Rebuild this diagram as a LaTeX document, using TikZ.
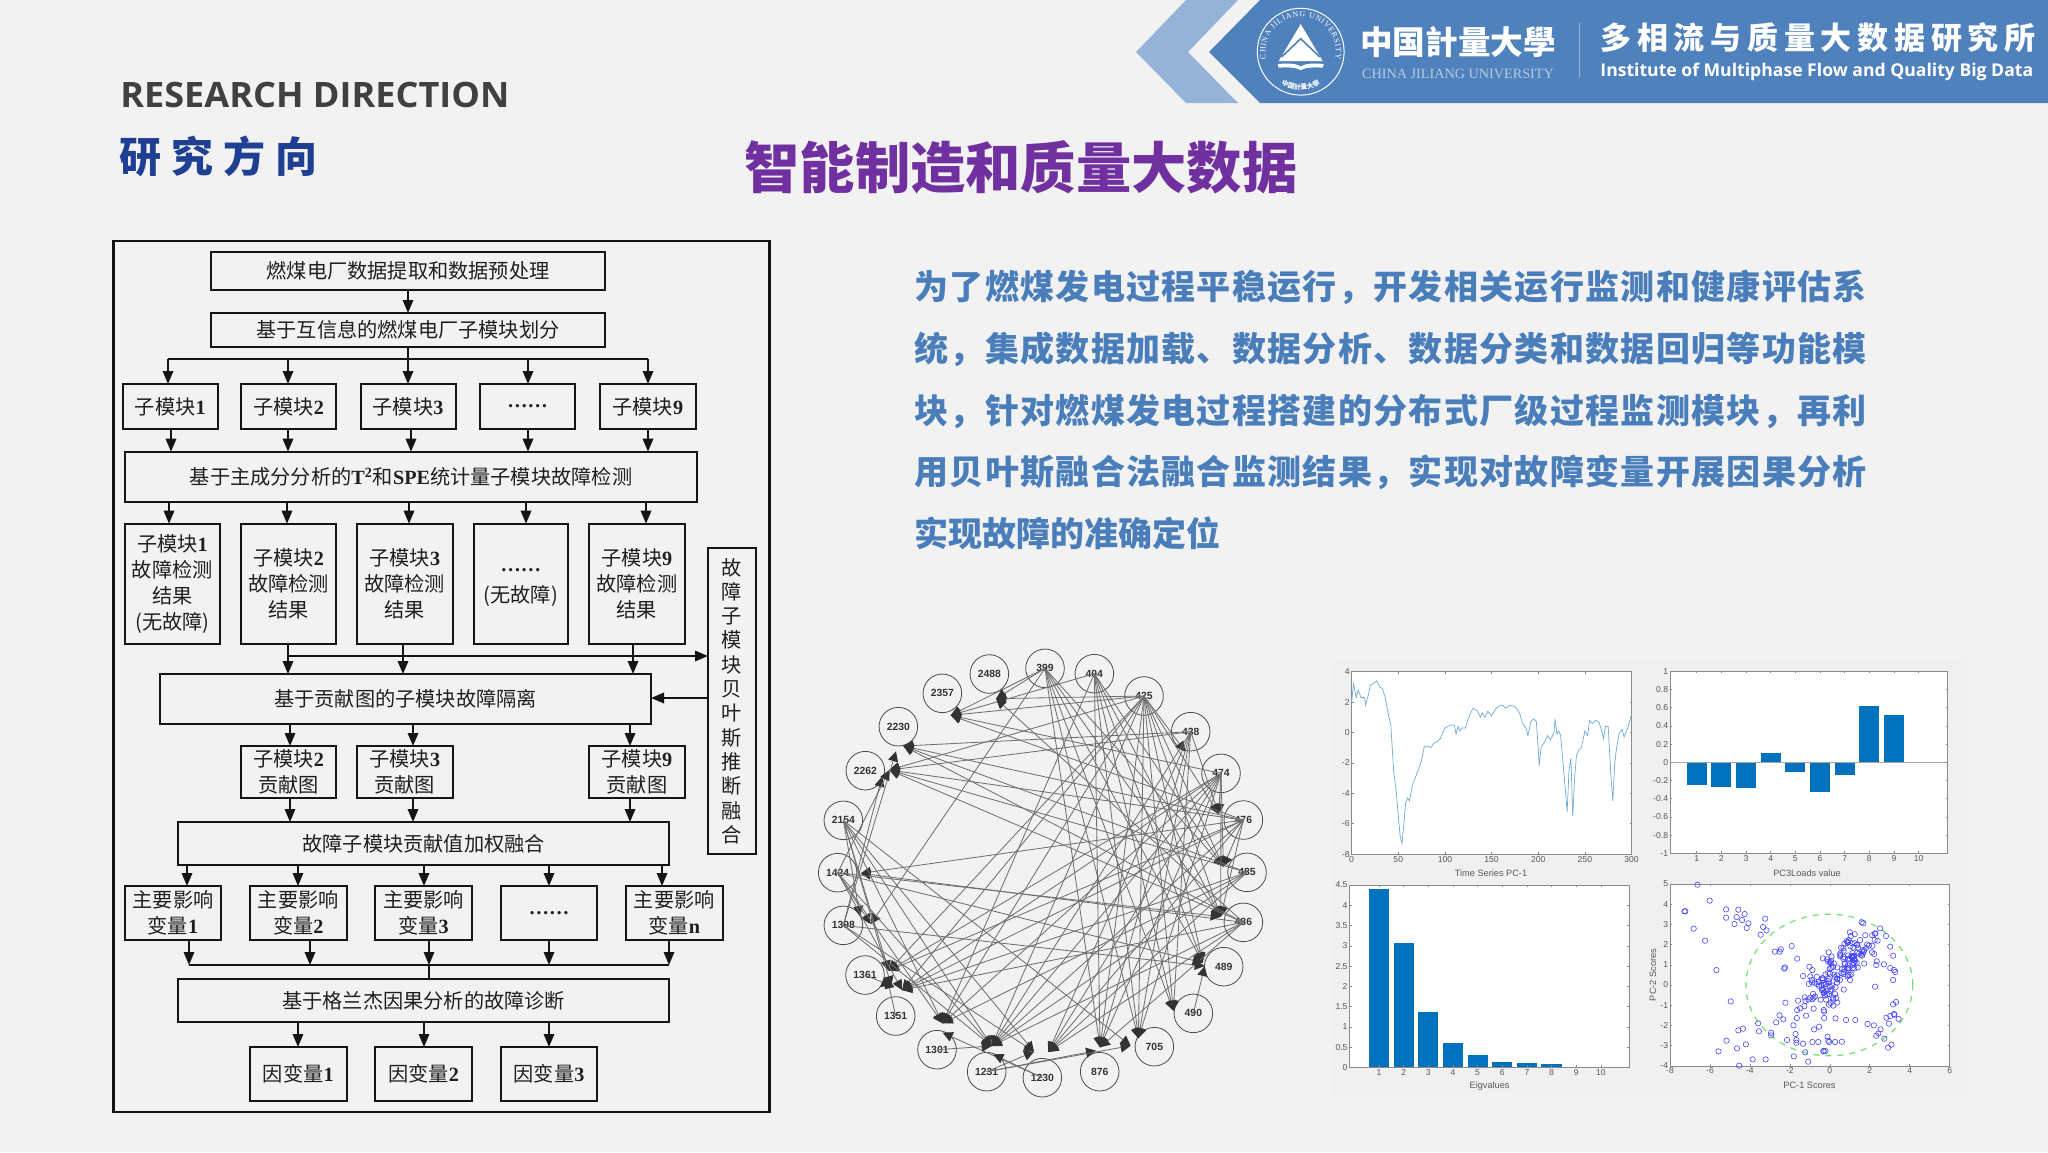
\documentclass[tikz,border=0pt]{standalone}
\usepackage{fontspec}
\usepackage{graphicx}
\usetikzlibrary{arrows.meta,calc,decorations.text}
\setmainfont{Liberation Serif}
\newfontfamily\cjk{Noto Sans CJK SC}
\newfontfamily\cjktc{Noto Sans CJK TC}
\newfontfamily\lsans{Liberation Sans}
\newfontfamily\osans{Open Sans}
\definecolor{slidebg}{HTML}{F2F2F2}
\definecolor{panelbg}{HTML}{F0F0F0}
\definecolor{bannerblue}{HTML}{4F81BD}
\definecolor{chevblue}{HTML}{95B3D7}
\definecolor{parablue}{HTML}{4A7EBB}
\definecolor{titlepurple}{HTML}{7030A0}
\definecolor{headblue}{HTML}{1F3F93}
\definecolor{headgray}{HTML}{404040}
\definecolor{barblue}{HTML}{0072BD}
\definecolor{ax}{HTML}{8A8A8A}
\definecolor{lineblue}{HTML}{6FAAD8}
\newcommand\dg[1]{{\rmfamily\bfseries #1}}
\newcommand\bx[6]{\node[flowbox, minimum width={(#4-#2)*0.5pt}, minimum height={(#5-#3)*0.5pt}] (#1) at ({(#2+#4)/2},{(#3+#5)/2}) {#6};}
\newcommand\dn[3]{\draw[flow] (#1.south -| #3) -- (#2.north -| #3);}
\tikzset{
 flowbox/.style={draw=black!92,line width=1pt,inner sep=0pt,outer sep=0pt,align=center,text=black!88,font=\cjk\fontsize{10.1}{13}\selectfont},
 flow/.style={line width=1pt,draw=black!92,-{Triangle[length=6.5pt,width=5.2pt]}},
 flowline/.style={line width=1pt,draw=black!92},
 gnode/.style={circle,draw=black!70,line width=0.4pt,minimum size=19.3pt,inner sep=0pt,text=black!80,font=\lsans\bfseries\fontsize{5.2}{6}\selectfont},
 gedge/.style={draw=black!56,line width=0.42pt,-{Triangle[length=5pt,width=5pt,black!80]}},
 axframe/.style={draw=ax,line width=0.35pt,fill=white},
 tickm/.style={draw=ax,line width=0.3pt},
 ticklab/.style={text=black!65,font=\lsans\fontsize{4.3}{5}\selectfont,inner sep=0.8pt},
 axlab/.style={text=black!65,font=\lsans\fontsize{4.6}{5.5}\selectfont,inner sep=0pt},
 mk/.style={draw=blue!75,line width=0.28pt},
}
\begin{document}
\begin{tikzpicture}[x=0.5pt,y=-0.5pt]
\fill[slidebg] (0,0) rectangle (2048,1152);
\useasboundingbox (0,0) rectangle (2048,1152);
% banner
\fill[chevblue] (1186,0) -- (1136,52) -- (1186,103) -- (1238,103) -- (1188,52) -- (1238,0) -- cycle;
\fill[bannerblue] (1209,52) -- (1260,0) -- (2048,0) -- (2048,103) -- (1260,103) -- cycle;
\begin{scope}[shift={(1300.7,51.7)},x=1pt,y=1pt]
 \draw[white,line width=0.5pt] (0,0) circle (21.7pt);
 \fill[white] (0,13.8) -- (11,-4.7) -- (-11,-4.7) -- cycle;
 \draw[bannerblue,line width=0.8pt] (-9.5,-2.6) -- (0,6.5) -- (9.5,-2.6);
 \fill[white] (-11.5,-6.2) .. controls (-6,-5.6) and (-2,-6) .. (0,-7.4) .. controls (2,-6) and (6,-5.6) .. (11.5,-6.2) -- (11,-8) .. controls (6,-7.6) and (2,-8) .. (0,-9.2) .. controls (-2,-8) and (-6,-7.6) .. (-11,-8) -- cycle;
 \path[decorate,decoration={text along path,text align=fit to path,text={|\rmfamily\fontsize{4}{5}\selectfont\color{white}|CHINA JILIANG UNIVERSITY}}] (192:17.6pt) arc[start angle=192,end angle=-12,radius=17.6pt];
 \path[decorate,decoration={text along path,text align=center,text={|\cjktc\bfseries\fontsize{3.4}{4}\selectfont\color{white}|中国計量大學}}] (222:19pt) arc[start angle=222,end angle=318,radius=19pt];
\end{scope}
\node[text=white,inner sep=0pt,anchor=center,font=\cjktc\bfseries\fontsize{16.3}{18}\selectfont] (cjlu) at (1458,42) {中国計量大學};
\node[text=chevblue!70!white,inner sep=0pt,font=\rmfamily\fontsize{7.1}{8}\selectfont] (cjluen) at (1458,74) {CHINA JILIANG UNIVERSITY};
\fill[chevblue] (1578.6,23) rectangle (1579.8,78);
\node[text=white,inner sep=0pt,anchor=west,font=\cjk\bfseries\fontsize{15.5}{18}\selectfont\addfontfeature{LetterSpace=18.5}] (inst) at (1600,38) {多相流与质量大数据研究所};
\node[text=white,inner sep=0pt,anchor=west,font=\osans\bfseries\fontsize{8.8}{11}\selectfont] (insten) at (1600,72) {Institute of Multiphase Flow and Quality Big Data};
% headings
\node[text=headgray,inner sep=0pt,anchor=west,font=\osans\bfseries\fontsize{17.5}{20}\selectfont] (rd) at (120,95) {\scalebox{1.03}[1]{RESEARCH DIRECTION}};
\node[text=headblue,inner sep=0pt,anchor=west,font=\cjk\bfseries\fontsize{21}{24}\selectfont\addfontfeature{LetterSpace=24}] (yjfx) at (119,156) {研究方向};
\node[text=titlepurple,inner sep=0pt,anchor=west,font=\cjk\bfseries\fontsize{27.65}{30}\selectfont] (title) at (744,167) {智能制造和质量大数据};
\node[text=parablue,inner sep=0pt,anchor=north west,align=left,font=\cjk\bfseries\fontsize{17}{30.83}\selectfont\addfontfeature{LetterSpace=3.9}] (para) at (914,270) {为了燃煤发电过程平稳运行，开发相关运行监测和健康评估系\\统，集成数据加载、数据分析、数据分类和数据回归等功能模\\块，针对燃煤发电过程搭建的分布式厂级过程监测模块，再利\\用贝叶斯融合法融合监测结果，实现对故障变量开展因果分析\\\addfontfeature{LetterSpace=0}实现故障的准确定位};
% flowchart
\node[draw=black!92,line width=1.2pt,minimum width=327.95pt,minimum height=435.5pt,inner sep=0pt] (frame) at (441.5,676.5) {};
\bx{b1}{211}{252}{605}{290}{燃煤电厂数据提取和数据预处理}
\bx{b2}{211}{313}{605}{347}{基于互信息的燃煤电厂子模块划分}
\bx{m1}{123}{384}{217.5}{429}{子模块\dg{1}}
\bx{m2}{241}{384}{336}{429}{子模块\dg{2}}
\bx{m3}{360.6}{384}{455.6}{429}{子模块\dg{3}}
\bx{m4}{480}{384}{575}{429}{\dg{……}}
\bx{m5}{600}{384}{695.5}{429}{子模块\dg{9}}
\bx{t2}{125}{451.7}{697}{502}{基于主成分分析的\dg{T\textsuperscript{2}}和\dg{SPE}统计量子模块故障检测}
\bx{r1}{125}{523.7}{219.7}{644.3}{子模块\dg{1}\\故障检测\\结果\\(无故障)}
\bx{r2}{241}{523.7}{336}{644.3}{子模块\dg{2}\\故障检测\\结果}
\bx{r3}{357}{523.7}{452.5}{644.3}{子模块\dg{3}\\故障检测\\结果}
\bx{r4}{473.7}{523.7}{568}{644.3}{\rule{0pt}{5pt}\dg{……}\\[2.5pt](无故障)}
\bx{r5}{589.4}{523.7}{684.5}{644.3}{子模块\dg{9}\\故障检测\\结果}
\node[flowbox,font=\cjk\fontsize{10.1}{12.15}\selectfont,minimum width=24pt,minimum height=153pt] (side) at (732,701) {故\\障\\子\\模\\块\\贝\\叶\\斯\\推\\断\\融\\合};
\bx{contrib}{160}{674}{651}{724}{基于贡献图的子模块故障隔离}
\bx{c2}{241}{746}{336}{798}{子模块\dg{2}\\贡献图}
\bx{c3}{357}{746}{452.5}{798}{子模块\dg{3}\\贡献图}
\bx{c5}{589.4}{746}{684.5}{798}{子模块\dg{9}\\贡献图}
\bx{w}{178.3}{822}{669}{865}{故障子模块贡献值加权融合}
\bx{v1}{125}{886}{221}{940}{主要影响\\变量\dg{1}}
\bx{v2}{250}{886}{346.5}{940}{主要影响\\变量\dg{2}}
\bx{v3}{375}{886}{472}{940}{主要影响\\变量\dg{3}}
\bx{v4}{501}{886}{597}{940}{\dg{……}}
\bx{v5}{625.5}{886}{723}{940}{主要影响\\变量\dg{n}}
\bx{g}{178.3}{979}{669}{1022}{基于格兰杰因果分析的故障诊断}
\bx{d1}{250}{1047}{346.5}{1101}{因变量\dg{1}}
\bx{d2}{375}{1047}{472}{1101}{因变量\dg{2}}
\bx{d3}{501}{1047}{597}{1101}{因变量\dg{3}}
\foreach \x in {168,169,171,187,189,287,288,290,298,310,403,408,409,411,413,424,429,526,528,549,630,633,646,648,662,669}{\coordinate (x\x) at (\x,0);}
\foreach \y in {359,656,698,965}{\coordinate (y\y) at (0,\y);}
\dn{b1}{b2}{x408}
\draw[flowline] (b2.south -| x408) -- (x408 |- y359);
\draw[flowline] (x168 |- y359) -- (x648 |- y359);
\foreach \n/\x in {m1/x168,m2/x288,m3/x408,m4/x528,m5/x648}{\draw[flow] (\x |- y359) -- (\n.north -| \x);}
\dn{m1}{t2}{x171}\dn{m2}{t2}{x288}\dn{m3}{t2}{x411}\dn{m4}{t2}{x528}\dn{m5}{t2}{x648}
\dn{t2}{r1}{x169}\dn{t2}{r2}{x287}\dn{t2}{r3}{x409}\dn{t2}{r4}{x526}\dn{t2}{r5}{x646}
\dn{r2}{contrib}{x288}\dn{r3}{contrib}{x403}\dn{r5}{contrib}{x633}
\draw[flow] (x288 |- y656) -- (side.west |- y656);
\draw[flow] (side.west |- y698) -- (contrib.east |- y698);
\dn{contrib}{c2}{x290}\dn{contrib}{c3}{x413}\dn{contrib}{c5}{x630}
\dn{c2}{w}{x290}\dn{c3}{w}{x413}\dn{c5}{w}{x630}
\dn{w}{v1}{x187}\dn{w}{v2}{x298}\dn{w}{v3}{x424}\dn{w}{v4}{x549}\dn{w}{v5}{x662}
\foreach \n/\x in {v1/x189,v2/x310,v3/x429,v4/x549,v5/x669}{\draw[flow] (\n.south -| \x) -- (\x |- y965);}
\draw[flowline] (x189 |- y965) -- (x669 |- y965);
\draw[flowline] (x429 |- y965) -- (g.north -| x429);
\dn{g}{d1}{x298}\dn{g}{d2}{x424}\dn{g}{d3}{x549}
% network graph
\begin{scope}[shift={(810,640)},x=0.16667pt,y=-0.16667pt]
\foreach \n/\a/\b in {399/705/85,404/853/101,425/1002/168,438/1142/275,474/1233/400,476/1300/540,485/1311/697,486/1300/847,489/1241/980,490/1150/1120,705/1033/1220,876/869/1295,1230/697/1313,1231/530/1295,1301/381/1229,1351/257/1128,1361/165/1005,1398/100/856,1424/83/698,2154/100/541,2262/166/392,2230/265/260,2357/397/160,2488/538/102}{\node[gnode] (g\n) at (\a,\b) {\n};}
\foreach \n/\a/\b in {2488/558/176,2357/422/226,2230/280/318,2262/238/390,1424/152/700,1398/182/852,1361/236/992,1351/276/1050,1301/398/1150,1231/545/1218,1230/715/1236,876/870/1222,705/985/1195,490/1090/1112,489/1178/968,486/1232/830,485/1240/680,476/1226/522,438/1126/335,2230b/258/334,2262b/216/410,489b/1184/978,1398b/150/828,1361b/232/1015,1351b/244/1038,1301b/398/1178,1231b/550/1243,1230b/672/1235,876b/858/1232,705b/962/1217}{\coordinate (p\n) at (\a,\b);}
\foreach \s/\tl in {
 399/{2357,2488,1398,876,705,490,489,486,485},
 404/{2357,1301,876,705,490,489,486,485},
 425/{2488,2357,2262,1361,1351,1301,1231,876,705,490,489,486,485,476,438},
 438/{2230,2262,1231,1230,876,705,476,490},
 474/{2357,1361,1351,1301,1231,1230,705,876,476,485,486},
 476/{2230,2262,2357,1424,1361,1351,1231,1230,485,486},
 485/{2230,2262,1351,1231,1230,1301},
 486/{2230,2262,2488,1424,1351,1230,1231,876},
 490/{489b},
 1398/{2262b,2230b,489b,1231,1230b},
 2154/{1398b,1361,1351b,1301,1231,705b,1230b},
 1424/{1398,2262,1351,1301,1231,486,489},
 1230/{1301b,1231b},
 1231/{876b,705b,1230b},
 1301/{1231},
 1361/{1351b},
 1351/{1361b}}{
  \foreach \t in \tl {\draw[gedge] (g\s.center) -- (p\t);}
}
\end{scope}
% chart panel
\fill[panelbg] (1332,660) rectangle (1966,1094);
% plot 1
\draw[axframe] (1351.6,671.7) rectangle (1631.5,854);
\begin{scope}[shift={(1351.6,732.5)},x=0.4665pt,y=7.596pt]
\foreach \t in {0,50,100,150,200,250,300}{
 \draw[tickm] (\t,-8) -- ++(0pt,1pt);\draw[tickm] (\t,4) -- ++(0pt,-1pt);
 \node[ticklab,anchor=north] (pax\t) at (\t,-8) {\t};}
\foreach \v [count=\i] in {-8,-6,-4,-2,0,2,4}{
 \draw[tickm] (0,\v) -- ++(1pt,0pt);\draw[tickm] (300,\v) -- ++(-1pt,0pt);
 \node[ticklab,anchor=east] (pay\i) at (0,\v) {\v};}
\draw[lineblue,line width=0.35pt] plot coordinates {(0,2)(2,3.2)(5,2.3)(7,2.8)(10,2.3)(14,2.3)(15,1.8)(18,2.5)(20,3.1)(25,3.3)(27,3.4)(30,3)(33,2.9)(36,2.3)(40,1)(42,0.5)(45,-2.5)(48,-4)(50,-5.5)(52,-6.8)(54,-7.3)(56,-6)(58,-4.6)(60,-4.3)(62,-4.5)(65,-3.5)(68,-3)(72,-2.4)(75,-1.8)(78,-0.9)(82,-0.9)(85,-1)(88,-0.7)(92,-0.6)(95,-0.4)(100,0.3)(103,0.4)(106,0.5)(110,0.5)(112,-0.1)(114,0.4)(116,0.1)(118,0.3)(122,0.3)(125,0.9)(130,1.6)(135,1.4)(138,1)(140,1.3)(143,1)(146,1.4)(150,1.1)(155,1.6)(160,1.8)(162,1.8)(165,1.6)(170,1.8)(175,1.7)(180,1.3)(183,0.6)(187,0.3)(189,-0.2)(192,0.7)(195,0.9)(198,0.7)(200,-1)(201,-2.2)(203,-1)(207,-0.6)(210,-0.2)(213,-0.5)(217,0)(218,0.9)(220,-0.1)(222,0.1)(224,-0.2)(228,-3)(231,-5.2)(233,-2.5)(235,-1.7)(237,-5.5)(239,-3)(241,-1.5)(243,-1.2)(246,-1)(248,-0.5)(250,0.1)(253,-0.2)(255,0.8)(258,0.6)(262,0.8)(265,0.7)(268,0.1)(270,-0.4)(272,0.4)(275,0.4)(278,-3)(280,-4.5)(282,-2)(284,-1)(287,0)(290,0.2)(292,-0.3)(296,0.3)(300,1.2)};
\end{scope}
\node[axlab] (pal) at (1491,872.7) {Time Series PC-1};
% plot 2
\draw[axframe] (1670,671.7) rectangle (1947.5,853);
\begin{scope}[shift={(1672,762.3)},x=12.33pt,y=45.5pt]
\foreach \i/\v in {1/-0.25,2/-0.27,3/-0.28,4/0.1,5/-0.11,6/-0.33,7/-0.14,8/0.62,9/0.52,10/-0.006}{\fill[barblue] ({\i-0.41},0) rectangle ({\i+0.41},\v);}
\draw[black!35,line width=0.6pt] (-0.08,0) -- (11.18,0);
\foreach \i in {1,...,10}{
 \draw[tickm] (\i,-1) -- ++(0pt,1pt);\draw[tickm] (\i,1) -- ++(0pt,-1pt);
 \node[ticklab,anchor=north] (pbx\i) at (\i,-1) {\i};}
\foreach \v [count=\i] in {-1,-0.8,-0.6,-0.4,-0.2,0,0.2,0.4,0.6,0.8,1}{
 \draw[tickm] (-0.08,\v) -- ++(1pt,0pt);\draw[tickm] (11.18,\v) -- ++(-1pt,0pt);
 \node[ticklab,anchor=east] (pby\i) at (-0.08,\v) {\v};}
\end{scope}
\node[axlab] (pbl) at (1807,872.7) {PC3Loads value};
% plot 3
\draw[axframe] (1349.5,885) rectangle (1629,1067.3);
\begin{scope}[shift={(1354.3,1067.3)},x=12.33pt,y=20.25pt]
\foreach \i/\v in {1/4.4,2/3.07,3/1.37,4/0.59,5/0.3,6/0.12,7/0.1,8/0.085}{\fill[barblue] ({\i-0.41},0) rectangle ({\i+0.41},\v);}
\foreach \i in {1,...,10}{
 \draw[tickm] (\i,0) -- ++(0pt,1pt);\draw[tickm] (\i,4.5) -- ++(0pt,-1pt);
 \node[ticklab,anchor=north] (pcx\i) at (\i,0) {\i};}
\foreach \v [count=\i] in {0,0.5,1,1.5,2,2.5,3,3.5,4,4.5}{
 \draw[tickm] (-0.195,\v) -- ++(1pt,0pt);\draw[tickm] (11.13,\v) -- ++(-1pt,0pt);
 \node[ticklab,anchor=east] (pcy\i) at (-0.195,\v) {\v};}
\end{scope}
\node[axlab] (pcl) at (1489.6,1086) {Eigvalues};
% plot 4
\draw[axframe] (1670,884) rectangle (1949.6,1066);
\begin{scope}[shift={(1829.8,985)},x=9.986pt,y=10.1pt]
\foreach \v [count=\i] in {-8,-6,-4,-2,0,2,4,6}{
 \draw[tickm] (\v,-4) -- ++(0pt,1pt);\draw[tickm] (\v,5) -- ++(0pt,-1pt);
 \node[ticklab,anchor=north] (pdx\i) at (\v,-4) {\v};}
\foreach \v [count=\i] in {-4,-3,-2,-1,0,1,2,3,4,5}{
 \draw[tickm] (-8,\v) -- ++(1pt,0pt);\draw[tickm] (6,\v) -- ++(-1pt,0pt);
 \node[ticklab,anchor=east] (pdy\i) at (-8,\v) {\v};}
\end{scope}
\draw[green!60!white!80!gray,dashed,line width=0.6pt] (1829.3,985) ellipse [x radius=41.7pt,y radius=35.4pt];
\begin{scope}[shift={(1320,870)},x=0.2104pt,y=-0.16667pt]
\foreach \p in {(897,44),(926,92),(866,124),(868,124),(965,118),(994,119),(1009,132),(990,141),(1003,150),(965,143),(985,162),(1018,160),(1014,174),(888,176),(1058,146),(1053,171),(1061,181),(1047,194),(915,212),(942,300),(1081,245),(1095,238),(1092,245),(1121,228),(1134,266),(1105,292),(1103,296),(976,394),(1106,398),(1041,460),(1043,484),(1092,436),(1101,448),(1084,457),(1005,476),(994,481),(1012,523),(966,512),(947,544),(991,535),(1028,568),(1059,568),(996,587),(1072,488),(1072,496),(1110,510),(1125,466),(1130,492),(1132,510),(1132,518),(1148,521),(1153,547),(1126,559),(1160,575),(1170,516),(1184,516),(1197,544),(1201,543),(1155,437),(1133,444),(1134,420),(1141,415),(1136,392),(1152,382),(1165,383),(1173,416),(1174,478),(1186,470),(1206,500),(1208,512),(1224,516),(1240,515),(1210,516),(1301,462),(1316,466),(1332,478),(1327,490),(1322,497),(1341,506),(1358,524),(1350,533),(1346,443),(1355,438),(1364,432),(1365,434),(1375,447),(1352,461),(1362,403),(1369,396),(1319,350),(1362,330),(1367,306),(1364,300),(1355,294),(1340,283),(1322,285),(1323,274),(1362,257),(1355,230),(1345,198),(1331,175),(1320,190),(1318,210),(1325,212),(1317,252),(1287,157),(1291,160),(1259,187),(1196,543),(1198,444),(1197,420),(1198,425),(1225,445),(1250,450),(1272,450),(1195,265),(1148,318),(1163,290),(1170,300)}{\draw[mk] \p circle[radius=1.35pt];}
\pgfmathsetseed{17}
\foreach \i in {1,...,150}{
 \pgfmathsetmacro\tp{rand}
 \pgfmathsetmacro\px{1232+52*\tp+36*rand}
 \pgfmathsetmacro\py{300-85*\tp+38*rand}
 \draw[mk] (\px,\py) circle[radius=1.35pt];
}
\end{scope}
\node[axlab] (pdl) at (1809.5,1085) {PC-1 Scores};
\node[axlab,rotate=90] (pdyl) at (1653,975) {PC-2 Scores};
\end{tikzpicture}
\end{document}
